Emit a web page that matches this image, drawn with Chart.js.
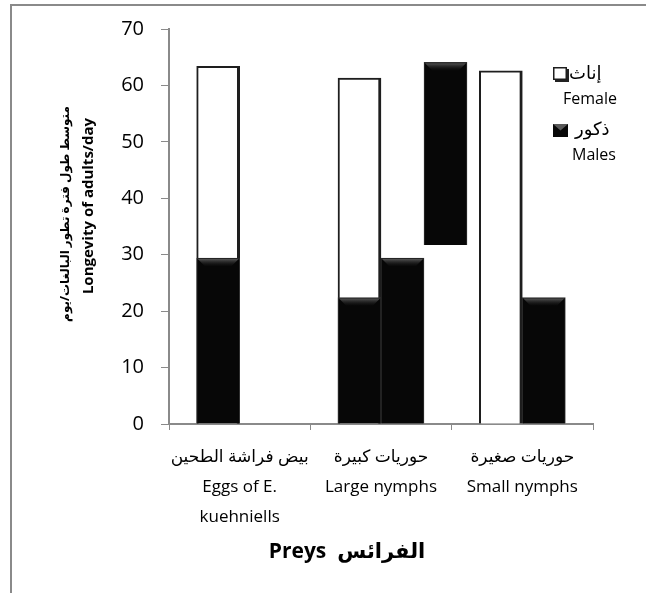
<!DOCTYPE html>
<html><head><meta charset="utf-8">
<script src="https://cdn.jsdelivr.net/npm/chart.js@4.4.1/dist/chart.umd.min.js"></script>
<style>
html,body{margin:0;padding:0;background:#fff;}
#wrap{position:relative;width:646px;height:593px;overflow:hidden;}
#frame{position:absolute;left:10px;top:4px;width:700px;height:700px;border-top:2px solid #8a8a8a;border-left:2px solid #8a8a8a;pointer-events:none;}
canvas{position:absolute;left:0;top:0;}
</style></head><body>
<div id="wrap"><canvas id="c" width="646" height="593"></canvas><div id="frame"></div></div>
<script>
// ---- data ----
const categories = [
  ['بيض فراشة الطحين', 'Eggs of E.', 'kuehniells'],
  ['حوريات كبيرة', 'Large nymphs'],
  ['حوريات صغيرة', 'Small nymphs']
];
const femaleValues   = [63.4, 61.3, 62.6];
const malesValuesA   = [29.4, 22.4, null];
const malesValuesB   = [null, 29.4, 22.4];
const floatingValues = [null, [31.7, 64.1], null];
const yMin = 0, yMax = 70, yStep = 10;
const yTitleLines = ['متوسط طول فترة تطور البالغات/يوم', 'Longevity of adults/day'];
const xTitleText = 'الفرائس  Preys';
const legendFemale = ['إناث', 'Female'];
const legendMales  = ['ذكور', 'Males'];

const LATIN = "'Open Sans', 'DejaVu Sans', sans-serif";
const AXIS_GRAY = '#8a8a8a';

const extrasPlugin = {
  id: 'extras',
  afterDatasetsDraw(chart) {
    // bevel highlight on the top of black bars
    const ctx = chart.ctx;
    chart.data.datasets.forEach((ds, di) => {
      if (ds.backgroundColor !== '#070707') return;
      const meta = chart.getDatasetMeta(di);
      meta.data.forEach((el, i) => {
        if (ds.data[i] === null) return;
        const p = el.getProps(['x', 'y', 'base', 'width'], true);
        const l = p.x - p.width / 2, r = p.x + p.width / 2;
        const top = Math.min(p.y, p.base);
        const g = ctx.createLinearGradient(0, top, 0, top + 8);
        g.addColorStop(0, 'rgba(110,110,110,0.9)');
        g.addColorStop(1, 'rgba(20,20,20,0.2)');
        ctx.save();
        ctx.fillStyle = g;
        ctx.beginPath();
        ctx.moveTo(l + 1, top + 1);
        ctx.lineTo(r - 1, top + 1);
        ctx.lineTo(r - 8, top + 8);
        ctx.lineTo(l + 8, top + 8);
        ctx.closePath();
        ctx.fill();
        ctx.restore();
      });
    });
  },
  afterDraw(chart) {
    const ctx = chart.ctx;
    ctx.save();
    ctx.fillStyle = '#000';
    // y title (rotated, two lines)
    ctx.save();
    ctx.translate(66, 214);
    ctx.rotate(-Math.PI / 2);
    ctx.textAlign = 'center';
    ctx.textBaseline = 'middle';
    ctx.font = "bold 12px " + LATIN;
    ctx.fillText(yTitleLines[0], 0, 0);
    ctx.restore();
    ctx.save();
    ctx.translate(89, 206);
    ctx.rotate(-Math.PI / 2);
    ctx.textAlign = 'center';
    ctx.textBaseline = 'middle';
    ctx.font = "bold 15px " + LATIN;
    ctx.fillText(yTitleLines[1], 0, 0);
    ctx.restore();
    // x title
    ctx.font = "bold 21px " + LATIN;
    ctx.textAlign = 'center';
    ctx.textBaseline = 'middle';
    ctx.direction = 'rtl';
    ctx.fillText(xTitleText, 347, 552);
    ctx.direction = 'ltr';
    // legend: female box
    ctx.fillStyle = '#222';
    ctx.fillRect(555, 69, 14, 13);
    ctx.fillStyle = '#fff';
    ctx.fillRect(553, 67, 14, 13);
    ctx.strokeStyle = '#1e1e1e';
    ctx.lineWidth = 1.5;
    ctx.strokeRect(553.75, 67.75, 12.5, 11.5);
    ctx.fillStyle = '#000';
    ctx.font = "18px " + LATIN;
    ctx.textAlign = 'left';
    ctx.fillText(legendFemale[0], 569, 74);
    ctx.font = "16px " + LATIN;
    ctx.fillText(legendFemale[1], 563, 99);
    // legend: males box
    ctx.fillStyle = '#080808';
    ctx.fillRect(553, 124, 15, 13);
    ctx.fillStyle = 'rgba(110,110,110,0.8)';
    ctx.beginPath();
    ctx.moveTo(553, 124); ctx.lineTo(568, 124); ctx.lineTo(560.5, 130.5); ctx.closePath();
    ctx.fill();
    ctx.fillStyle = '#000';
    ctx.font = "18px " + LATIN;
    ctx.fillText(legendMales[0], 575, 130);
    ctx.font = "16px " + LATIN;
    ctx.fillText(legendMales[1], 572, 155);
    ctx.restore();
  }
};

const whiteStyle = {
  backgroundColor: '#ffffff',
  borderColor: '#1e1e1e',
  borderWidth: {left: 2, right: 3, top: 2, bottom: 0},
  borderSkipped: 'start'
};
const blackStyle = {
  backgroundColor: '#070707',
  borderColor: '#303030',
  borderWidth: 1,
  borderSkipped: 'start'
};

new Chart(document.getElementById('c'), {
  type: 'bar',
  data: {
    labels: categories,
    datasets: [
      {label: 'slot', data: [null, null, null], stack: 'a'},
      Object.assign({label: legendMales[1], data: malesValuesA, stack: 'b'}, blackStyle),
      Object.assign({label: legendFemale[1], data: femaleValues, stack: 'b'}, whiteStyle),
      Object.assign({label: legendMales[1] + ' 2', data: malesValuesB, stack: 'c'}, blackStyle),
      Object.assign({label: 'key', data: floatingValues, stack: 'd'}, blackStyle)
    ]
  },
  options: {
    responsive: false,
    animation: false,
    devicePixelRatio: 1,
    barThickness: 43,
    layout: {padding: {left: 0, right: 53, top: 24, bottom: 0}},
    plugins: {legend: {display: false}, tooltip: {enabled: false}},
    scales: {
      x: {
        grid: {drawOnChartArea: false, drawTicks: true, tickLength: 6, color: AXIS_GRAY, offset: true},
        border: {color: AXIS_GRAY, width: 2},
        ticks: {
          color: '#000',
          maxRotation: 0,
          autoSkip: false,
          padding: 12,
          font: {family: LATIN, size: 17, lineHeight: 1.76}
        },
        afterFit(scale) { scale.height = 593 - 424; }
      },
      y: {
        min: yMin, max: yMax,
        stacked: false,
        grid: {drawOnChartArea: false, drawTicks: true, tickLength: 8, color: AXIS_GRAY},
        border: {color: AXIS_GRAY, width: 2},
        ticks: {
          stepSize: yStep,
          color: '#000',
          padding: 17,
          font: {family: LATIN, size: 20}
        },
        afterFit(scale) { scale.width = 169; }
      }
    }
  },
  plugins: [extrasPlugin]
});
</script>
</body></html>
